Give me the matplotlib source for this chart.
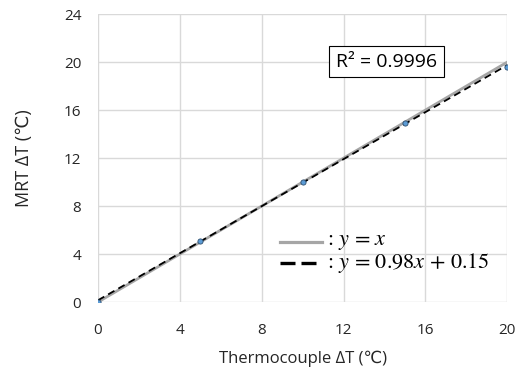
import matplotlib
matplotlib.use("Agg")
import matplotlib.pyplot as plt
import numpy as np

plt.rcParams['font.family'] = ['Open Sans', 'DejaVu Sans']
plt.rcParams['mathtext.fontset'] = 'stix'

x_meas = [0, 5, 10, 15, 20]
y_meas = [0.0, 5.1, 10.0, 14.95, 19.6]
slope, intercept = 0.98, 0.15
r2_text = "R² = 0.9996"
xticks = [0, 4, 8, 12, 16, 20]
yticks = [0, 4, 8, 12, 16, 20, 24]

fig = plt.figure(figsize=(5.24, 3.72), dpi=100)
ax = fig.add_axes([0.187, 0.188, 0.781, 0.774])

xl = np.array([0, 20])
ax.plot(xl, xl, color='#a6a6a6', lw=2.0, zorder=2)
ax.plot(xl, slope * xl + intercept, color='black', lw=1.3, ls=(0, (4, 2.5)), zorder=3)
ax.scatter(x_meas, y_meas, s=14, color='#5b9bd5', edgecolors='#2f4f6f', linewidths=0.6, zorder=4)

ax.set_xlim(0, 20)
ax.set_ylim(0, 24)
ax.set_xticks(xticks)
ax.set_yticks(yticks)
ax.grid(True, color='#d9d9d9', lw=1.0)
ax.set_axisbelow(True)
for s in ax.spines.values():
    s.set_visible(False)
ax.tick_params(axis='x', length=0, labelsize=11, colors='#262626', pad=15)
ax.tick_params(axis='y', length=0, labelsize=11, colors='#262626', pad=12)
ax.set_xlabel('Thermocouple ΔT (℃)', fontsize=12, color='#262626', labelpad=9)
ax.set_ylabel('MRT ΔT (℃)', fontsize=13, color='#262626', labelpad=22)

ax.text(0.705, 0.835, r2_text, transform=ax.transAxes, fontsize=14, color='black',
        ha='center', va='center',
        bbox=dict(boxstyle='square,pad=0.35', fc='white', ec='black', lw=0.8))

# custom legend
lx0, lx1 = 0.445, 0.548
ax.plot([lx0, lx1], [0.208, 0.208], transform=ax.transAxes, color='#a6a6a6', lw=2.3)
ax.plot([lx0, lx1], [0.135, 0.135], transform=ax.transAxes, color='black', lw=2.4,
        ls=(0, (4.5, 1.8)))
ax.text(0.56, 0.208, r': $y$ = $x$', transform=ax.transAxes, fontsize=16,
        ha='left', va='center', family='STIXGeneral')
ax.text(0.56, 0.135, r': $y$ = 0.98$x$ + 0.15', transform=ax.transAxes, fontsize=16,
        ha='left', va='center', family='STIXGeneral')

fig.savefig('out.png', dpi=100)
